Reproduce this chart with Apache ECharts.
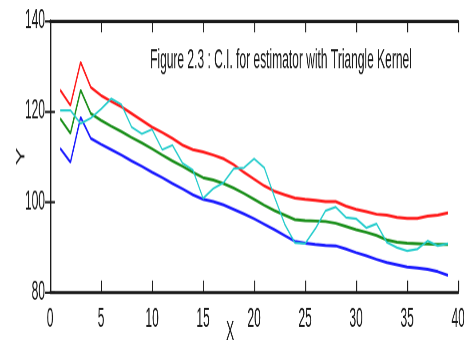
<!DOCTYPE html>
<html>
<head>
<meta charset="utf-8">
<script src="https://cdn.jsdelivr.net/npm/echarts@6/dist/echarts.min.js"></script>
<style>
html, body { margin: 0; padding: 0; background: #fff; }
body { width: 464px; height: 347px; overflow: hidden; }
/* the reference figure is stretched vertically, so the chart is drawn flat and scaled */
#chart { width: 464px; height: 154px; transform: scaleY(2.253); transform-origin: 0 0; }
</style>
</head>
<body>
<div id="chart"></div>
<script>
var xs = [1, 2, 3, 4, 5, 6, 7, 8, 9, 10, 11, 12, 13, 14, 15, 16, 17, 18, 19, 20,
          21, 22, 23, 24, 25, 26, 27, 28, 29, 30, 31, 32, 33, 34, 35, 36, 37, 38, 39];
var upper = [124.7, 121.3, 130.9, 125.3, 123.5, 122.2, 121, 119.5, 118, 116.5,
             115.3, 114, 112.5, 111.5, 111, 110.3, 109.5, 108.2, 106.5, 105,
             103.5, 102.3, 101.5, 100.8, 100.5, 100.3, 100, 100, 99, 98.3,
             97.8, 97.2, 97, 96.5, 96.3, 96.3, 96.8, 97, 97.5];
var estimate = [118.4, 115.1, 124.7, 119.5, 118, 116.7, 115.5, 114.2, 113, 111.7,
                110.3, 109, 107.8, 106.5, 105.3, 104.8, 104, 103, 101.8, 100.5,
                99.2, 98, 97, 96, 95.8, 95.7, 95.6, 95.2, 94.5, 93.8,
                93.2, 92.5, 91.5, 91, 90.8, 90.7, 90.6, 90.5, 90.5];
var lower = [111.8, 108.7, 118.7, 114, 112.7, 111.5, 110.3, 109, 107.8, 106.5,
             105.3, 104, 102.8, 101.5, 100.5, 100, 99.3, 98.3, 97.3, 96.2,
             95, 93.8, 92.5, 91.2, 90.8, 90.5, 90.3, 90.2, 89.5, 88.7,
             88, 87.2, 86.5, 86, 85.5, 85.3, 85, 84.5, 83.7];
var observed = [120.2, 120.2, 117.3, 118.5, 120.5, 122.8, 121.5, 116.5, 115, 116,
                111.5, 112.5, 108.5, 107, 100.7, 102.9, 104.2, 107.3, 107.5, 109.5,
                107.5, 101, 95, 90.9, 90.7, 94, 98, 98.8, 96.5, 96.2,
                94.2, 95.1, 91, 89.8, 89.1, 89.5, 91.3, 90.2, 90.7];

function pairs(ys) {
    var out = [];
    for (var i = 0; i < xs.length; i++) out.push([xs[i], ys[i]]);
    return out;
}

var font = '"Liberation Sans", Arial, sans-serif';
var ink = '#1a1a1a';

var chart = echarts.init(document.getElementById('chart'), null, {devicePixelRatio: 2.253});

var frame = {show: true, lineStyle: {color: ink, width: 1.4}};
var ticks = {show: true, inside: true, length: 5, lineStyle: {color: ink, width: 1}};

chart.setOption({
    animation: false,
    backgroundColor: '#fff',
    title: {
        text: 'Figure 2.3 : C.I. for estimator with Triangle Kernel',
        left: 150, top: 20, padding: 0,
        textStyle: {fontFamily: font, fontSize: 12, fontWeight: 'normal', color: ink, lineHeight: 14}
    },
    grid: {left: 50, right: 6, top: 9.3, bottom: 24.8, containLabel: false, outerBoundsMode: 'none'},
    xAxis: [{
        type: 'value', min: 0, max: 40, interval: 5,
        name: 'X', nameLocation: 'middle', nameGap: 12, nameMoveOverlap: false,
        nameTextStyle: {fontFamily: font, fontSize: 12, color: ink, padding: [0, 48, 0, 0]},
        axisLine: frame, axisTick: ticks, splitLine: {show: false},
        axisLabel: {fontFamily: font, fontSize: 12, color: ink, margin: 6}
    }, {
        type: 'value', position: 'top', min: 0, max: 40, interval: 5,
        axisLine: frame, axisTick: ticks, splitLine: {show: false},
        axisLabel: {show: false}
    }],
    yAxis: [{
        type: 'value', min: 80, max: 140, interval: 20,
        name: 'Y', nameLocation: 'middle', nameGap: 23, nameMoveOverlap: false,
        nameTextStyle: {fontFamily: font, fontSize: 12, color: ink},
        axisLine: frame, axisTick: ticks, splitLine: {show: false},
        axisLabel: {fontFamily: font, fontSize: 12, color: ink, margin: 5}
    }, {
        type: 'value', position: 'right', min: 80, max: 140, interval: 20,
        axisLine: frame, axisTick: ticks, splitLine: {show: false},
        axisLabel: {show: false}
    }],
    series: [
        {type: 'line', data: pairs(upper), showSymbol: false, lineStyle: {color: '#ff1a1a', width: 1.3}},
        {type: 'line', data: pairs(lower), showSymbol: false, lineStyle: {color: '#1a1aff', width: 1.3}},
        {type: 'line', data: pairs(estimate), showSymbol: false, lineStyle: {color: '#1a8f1a', width: 1.3}},
        {type: 'line', data: pairs(observed), showSymbol: false, lineStyle: {color: '#22cccc', width: 1}}
    ]
});
</script>
</body>
</html>
